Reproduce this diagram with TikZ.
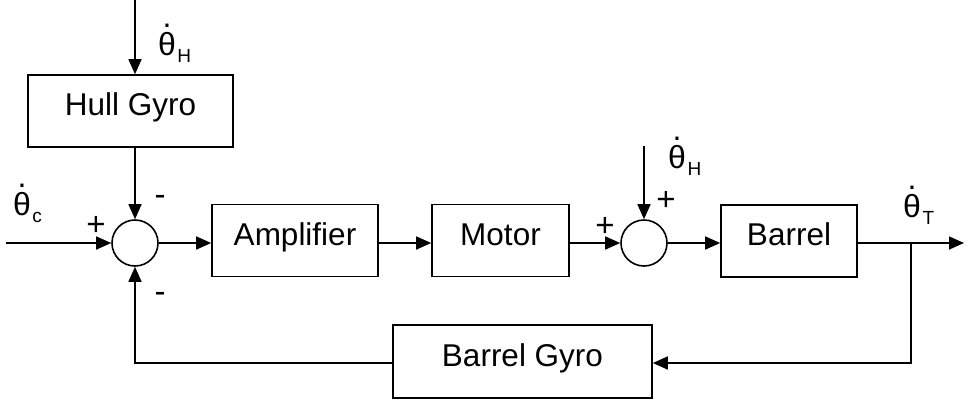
\documentclass[tikz,border=0pt]{standalone}
\usepackage{fontspec}
\setmainfont{Liberation Sans}
\usetikzlibrary{arrows.meta}

% rate symbol: theta with a dot above and a subscript
\newcommand\ratesym[1]{\mbox{\rlap{\hspace{0.14em}\raisebox{0.86em}{.}}θ\hspace{1.5pt}\raisebox{-7pt}{\fontsize{19}{19}\selectfont #1}}}

\tikzset{
  block/.style={draw, line width=1.6pt, rectangle, inner sep=0pt,
                minimum height=72pt, text height=20pt, text depth=11pt,
                font=\fontsize{31.5}{36}\selectfont},
  sumpt/.style={draw, line width=1.6pt, circle, inner sep=0pt, minimum size=46pt},
  wire/.style={line width=1.6pt},
  sig/.style={wire, -{Triangle[length=15pt,width=13pt]}},
  lbl/.style={inner sep=0pt, font=\fontsize{32}{36}\selectfont},
  signlbl/.style={inner sep=0pt, font=\fontsize{33}{36}\selectfont},
}

\begin{document}
\begin{tikzpicture}[x=1pt,y=-1pt]
\useasboundingbox (0,0) rectangle (969,405);

% blocks and summing points
\node[block, minimum width=205pt] (hull)   at (130.5,111)   {Hull Gyro};
\node[sumpt]                      (s1)     at (135,243)     {};
\node[block, minimum width=166pt] (amp)    at (295,240.5)   {Amplifier};
\node[block, minimum width=137pt] (motor)  at (500.5,240.5) {Motor};
\node[sumpt]                      (s2)     at (644,243)     {};
\node[block, minimum width=136pt] (barrel) at (789,241)     {Barrel};
\node[block, minimum width=259pt, minimum height=73pt] (bgyro) at (522.5,361.5) {Barrel Gyro};

% free ends of the signal lines
\coordinate (hin)  at (135,0);
\coordinate (cin)  at (6,243);
\coordinate (hin2) at (644,146);
\coordinate (tout) at (964,243);
\coordinate (tap)  at (911,243);
\coordinate (fb)   at (911,363);
\coordinate (fbl)  at (135,363);

% forward path
\draw[sig] (hin) -- (hin |- hull.north);
\draw[sig] (s1 |- hull.south) -- (s1.north);
\draw[sig] (cin) -- (s1.west);
\draw[sig] (s1.east) -- (s1.east -| amp.west);
\draw[sig] (amp.east |- s1) -- (motor.west |- s1);
\draw[sig] (motor.east |- s1) -- (s2.west);
\draw[sig] (hin2) -- (s2.north);
\draw[sig] (s2.east) -- (s2.east -| barrel.west);
\draw[sig] (barrel.east |- s2) -- (tout);

% feedback path
\draw[sig] (tap) -- (fb) -- (fb -| bgyro.east);
\draw[sig] (fb -| bgyro.west) -- (fbl) -- (s1.south);

% signal labels
\node[lbl, anchor=base west] (lh)  at (158,55)  {\ratesym{H}};
\node[lbl, anchor=base west] (lc)  at (13,215)  {\ratesym{c}};
\node[lbl, anchor=base west] (lh2) at (668,168) {\ratesym{H}};
\node[lbl, anchor=base west] (lt)  at (903,217) {\ratesym{T}};

% signs at the summing points
\node[signlbl] (p1) at (96,226)  {+};
\node[signlbl] (m1) at (160,200) {-};
\node[signlbl] (m2) at (160,297) {-};
\node[signlbl] (p2) at (605,227) {+};
\node[signlbl] (p3) at (666,201) {+};
\end{tikzpicture}
\end{document}
